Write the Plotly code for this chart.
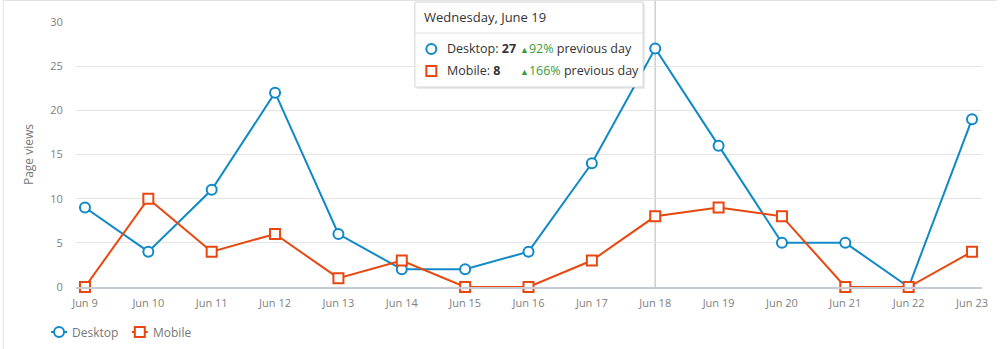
import math
import plotly.graph_objects as go

days = ["Jun 9", "Jun 10", "Jun 11", "Jun 12", "Jun 13", "Jun 14", "Jun 15", "Jun 16",
        "Jun 17", "Jun 18", "Jun 19", "Jun 20", "Jun 21", "Jun 22", "Jun 23"]
desktop = [9, 4, 11, 22, 6, 2, 2, 4, 14, 27, 16, 5, 5, 0, 19]
mobile = [0, 10, 4, 6, 1, 3, 0, 0, 3, 8, 9, 8, 0, 0, 4]
y_ticks = [0, 5, 10, 15, 20, 25, 30]
series_names = ["Desktop", "Mobile"]

hover_idx = 9
hover_title = "Wednesday, June 19"

BLUE = "#0f89c8"
ORANGE = "#e8470f"
GREEN = "#3b9a3b"
FONT = "Open Sans, Noto Sans, sans-serif"

W, H = 1000, 349
L, R, T, B = 76, 985, 22, 287
xs = list(range(len(days)))

def px(x):
    return (x - L) / (R - L)

def py(y):
    return (B - y) / (B - T)

fig = go.Figure()
fig.add_trace(go.Scatter(
    x=xs, y=desktop, name=series_names[0], mode="lines+markers",
    line=dict(color=BLUE, width=2),
    marker=dict(symbol="circle", size=10, color="white", line=dict(color=BLUE, width=2)),
    cliponaxis=False, showlegend=False,
))
fig.add_trace(go.Scatter(
    x=xs, y=mobile, name=series_names[1], mode="lines+markers",
    line=dict(color=ORANGE, width=2),
    marker=dict(symbol="square", size=10, color="white", line=dict(color=ORANGE, width=2)),
    cliponaxis=False, showlegend=False,
))

unit = (975 - 85) / (len(days) - 1)
x_lo = -(85 - L) / unit
x_hi = (len(days) - 1) + (R - 975) / unit

shapes = []
# outer border (left and top)
shapes.append(dict(type="line", xref="paper", yref="paper", x0=px(3), x1=px(3), y0=py(H), y1=py(0),
                   line=dict(color="#e3e3e3", width=1)))
shapes.append(dict(type="line", xref="paper", yref="paper", x0=px(3), x1=px(W), y0=py(0.5), y1=py(0.5),
                   line=dict(color="#e3e3e3", width=1)))
# crosshair
shapes.append(dict(type="line", xref="x", yref="paper", x0=hover_idx, x1=hover_idx, y0=0, y1=py(0),
                   line=dict(color="#cfcfcf", width=1.5), layer="below"))

# tooltip box
bx0, bx1, by0, by1 = 416, 645, 2, 87
shapes.append(dict(type="rect", xref="paper", yref="paper", x0=px(bx0 + 2), x1=px(bx1 + 2),
                   y0=py(by1 + 2), y1=py(by0 + 2), line=dict(width=0), fillcolor="rgba(0,0,0,0.08)"))
shapes.append(dict(type="rect", xref="paper", yref="paper", x0=px(bx0), x1=px(bx1),
                   y0=py(by1), y1=py(by0), line=dict(color="#d4d4d4", width=1), fillcolor="white"))
shapes.append(dict(type="line", xref="paper", yref="paper", x0=px(bx0), x1=px(bx1),
                   y0=py(33), y1=py(33), line=dict(color="#e2e2e2", width=1)))

def circle_sym(cx, cy, color):
    return dict(type="circle", xref="paper", yref="paper", x0=px(cx - 5), x1=px(cx + 5),
                y0=py(cy + 5), y1=py(cy - 5), line=dict(color=color, width=2), fillcolor="white")

def square_sym(cx, cy, color):
    return dict(type="rect", xref="paper", yref="paper", x0=px(cx - 5), x1=px(cx + 5),
                y0=py(cy + 5), y1=py(cy - 5), line=dict(color=color, width=2), fillcolor="white")

# tooltip symbols
shapes.append(circle_sym(432.5, 49, BLUE))
shapes.append(square_sym(432.5, 71, ORANGE))

# legend (custom, compact)
LY = 332
shapes.append(dict(type="line", xref="paper", yref="paper", x0=px(51), x1=px(67), y0=py(LY), y1=py(LY),
                   line=dict(color=BLUE, width=2)))
shapes.append(circle_sym(59, LY, BLUE))
shapes.append(dict(type="line", xref="paper", yref="paper", x0=px(132), x1=px(148), y0=py(LY), y1=py(LY),
                   line=dict(color=ORANGE, width=2)))
shapes.append(square_sym(140, LY, ORANGE))

def pct(cur, prev):
    return math.floor((cur / prev - 1) * 100)

annotations = []
annotations.append(dict(xref="paper", yref="paper", x=px(70), y=py(LY), xanchor="left", yanchor="middle",
                        text=series_names[0], showarrow=False, font=dict(family=FONT, size=12, color="#777")))
annotations.append(dict(xref="paper", yref="paper", x=px(151), y=py(LY), xanchor="left", yanchor="middle",
                        text=series_names[1], showarrow=False, font=dict(family=FONT, size=12, color="#777")))

annotations.append(dict(xref="paper", yref="paper", x=px(423), y=py(17), xanchor="left", yanchor="middle",
                        text=hover_title, showarrow=False, font=dict(family=FONT, size=13, color="#333")))
rows = [(series_names[0], desktop, 49), (series_names[1], mobile, 71)]
for name, vals, yy in rows:
    annotations.append(dict(xref="paper", yref="paper", x=px(446), y=py(yy), xanchor="left", yanchor="middle",
                            text=f"{name}: <b>{vals[hover_idx]}</b>", showarrow=False,
                            font=dict(family=FONT, size=12.5, color="#333")))
    p = pct(vals[hover_idx], vals[hover_idx - 1])
    annotations.append(dict(xref="paper", yref="paper", x=px(519), y=py(yy), xanchor="left", yanchor="middle",
                            text=f"<span style='color:{GREEN};font-size:9px'>▲</span><span style='color:{GREEN}'>{p}%</span> previous day",
                            showarrow=False, font=dict(family=FONT, size=12.5, color="#333")))

fig.update_layout(
    width=W, height=H,
    margin=dict(l=L, r=W - R, t=T, b=H - B),
    paper_bgcolor="white", plot_bgcolor="white",
    font=dict(family=FONT, color="#777"),
    showlegend=False,
    xaxis=dict(range=[x_lo, x_hi], tickmode="array", tickvals=xs, ticktext=days,
               showgrid=False, zeroline=False, showline=True, linecolor="#c7cbd3", linewidth=2,
               ticks="outside", ticklen=5, tickcolor="rgba(0,0,0,0)",
               tickfont=dict(family=FONT, size=11, color="#808080")),
    yaxis=dict(range=[0, 30], tickmode="array", tickvals=y_ticks, showgrid=True, gridcolor="#e4e4e4",
               gridwidth=1, zeroline=False, showline=False, ticks="outside", ticklen=10, tickcolor="rgba(0,0,0,0)",
               tickfont=dict(family=FONT, size=11, color="#808080"),
               title=dict(text="Page views", font=dict(family=FONT, size=12, color="#777"), standoff=14)),
    shapes=shapes,
    annotations=annotations,
)

fig.write_html("out.html")
